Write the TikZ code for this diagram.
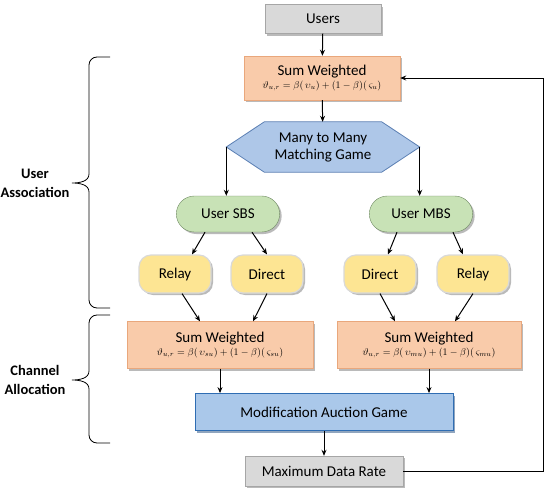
\documentclass[tikz,border=0pt]{standalone}
\usepackage{amsmath,amssymb}
\usepackage{fontspec}
\setmainfont{Carlito}
\usepackage{xcolor}
\usetikzlibrary{positioning,arrows.meta,shapes.misc,shadows,backgrounds}

\definecolor{grayfill}{HTML}{D9D9D9}
\definecolor{peach}{HTML}{F9CBAA}
\definecolor{peachline}{HTML}{E9A77C}
\definecolor{hexfill}{HTML}{AEC7E8}
\definecolor{hexline}{HTML}{5B7FB3}
\definecolor{greenfill}{HTML}{C8E2B6}
\definecolor{greenline}{HTML}{6F8A62}
\definecolor{yellowfill}{HTML}{FDE593}
\definecolor{auctionfill}{HTML}{AAC8EA}
\definecolor{auctionline}{HTML}{2F6DB3}

\begin{document}
\begin{tikzpicture}[
    x=1pt, y=-1pt,
    txt/.style={font=\fontsize{15}{17}\selectfont, align=center},
    shade/.style={drop shadow={shadow xshift=2pt, shadow yshift=-2pt, fill=black!45, opacity=0.6}},
    graybox/.style={txt, rectangle, draw=black!35, fill=grayfill, shade, minimum width=116pt, minimum height=29pt},
    sumbox/.style={txt, rectangle, draw=peachline, fill=peach, shade, minimum width=156pt, minimum height=44pt},
    pill/.style={txt, rounded rectangle, draw=greenline, fill=greenfill, shade, minimum width=110pt, minimum height=36pt},
    leaf/.style={txt, rectangle, rounded corners=12pt, draw=black!15, line width=1.2pt, fill=yellowfill, shade, minimum width=72pt, minimum height=38pt},
    hexbox/.style={draw=hexline, fill=hexfill, line width=0.8pt},
    auction/.style={txt, rectangle, draw=auctionline, fill=auctionfill, line width=0.8pt, drop shadow={shadow xshift=2pt, shadow yshift=-2pt, fill=auctionline!70!black}, minimum width=258pt, minimum height=37pt},
    arrow/.style={-{Stealth[length=6pt, width=5pt]}, line width=1pt, black},
    brace/.style={line width=0.8pt, black},
    grouplabel/.style={font=\fontsize{14.5}{19}\selectfont\bfseries, align=center},
]
\useasboundingbox (0,0) rectangle (550,496);

% Top: users and weights
\node[graybox] (users) at (323,19) {Users};
\node[sumbox] (sumtop) at (322,78) {Sum Weighted\\[-4pt]{\fontsize{10}{11}\selectfont $\vartheta_{u,r}=\beta(\,\upsilon_u)+(1-\beta)(\,\varsigma_u)$}};

% Matching game
\node[txt, minimum width=193pt, minimum height=50pt] (match) at (323,147) {Many to Many\\Matching Game};
\begin{scope}[on background layer]
\draw[hexbox] (match.west) -- ([xshift=38pt]match.north west) -- ([xshift=-38pt]match.north east)
    -- (match.east) -- ([xshift=-38pt]match.south east) -- ([xshift=38pt]match.south west) -- cycle;
\end{scope}

% Association
\node[pill] (sbs) at (228,214) {User SBS};
\node[pill] (mbs) at (421,214) {User MBS};

\node[leaf] (relayL) at (175,274) {Relay};
\node[leaf] (directL) at (267,274) {Direct};
\node[leaf] (directR) at (380,274) {Direct};
\node[leaf] (relayR) at (473,274) {Relay};

% Allocation
\node[sumbox, minimum width=186pt, minimum height=47pt] (sumL) at (220,345) {Sum Weighted\\[-4pt]{\fontsize{10}{11}\selectfont $\vartheta_{u,r}=\beta(\,\upsilon_{su})+(1-\beta)(\,\varsigma_{su})$}};
\node[sumbox, minimum width=184pt, minimum height=47pt] (sumR) at (429,345) {Sum Weighted\\[-4pt]{\fontsize{10}{11}\selectfont $\vartheta_{u,r}=\beta(\,\upsilon_{mu})+(1-\beta)(\,\varsigma_{mu})$}};

\node[auction] (auction) at (324,412) {Modification Auction Game};
\node[graybox, minimum width=158pt, minimum height=30pt] (maxrate) at (324,471) {Maximum Data Rate};

\coordinate (loop) at (543,471);

% Arrows
\draw[arrow] (users) -- (sumtop);
\draw[arrow] (sumtop) -- (match);
\draw[arrow] (match.west) -- (match.west |- sbs.north);
\draw[arrow] (match.east) -- (match.east |- mbs.north);
\draw[arrow] ([xshift=-23pt]sbs.south) -- ([xshift=17pt]relayL.north);
\draw[arrow] ([xshift=24pt]sbs.south) -- (directL.north);
\draw[arrow] ([xshift=-24pt]mbs.south) -- ([xshift=8pt]directR.north);
\draw[arrow] ([xshift=32pt]mbs.south) -- ([xshift=-10pt]relayR.north);
\draw[arrow] ([xshift=7pt]relayL.south) -- ([xshift=-20pt]sumL.north);
\draw[arrow] (directL.south) -- ([xshift=33pt]sumL.north);
\draw[arrow] (directR.south) -- ([xshift=-34pt]sumR.north);
\draw[arrow] (relayR.south) -- ([xshift=26pt]sumR.north);
\draw[arrow] (sumL.south) -- (sumL.south |- auction.north);
\draw[arrow] (sumR.south) -- (sumR.south |- auction.north);
\draw[arrow] (auction) -- (maxrate);
\draw[arrow] (maxrate.east) -- (loop) |- (sumtop.east);

% Braces
\draw[brace] (110,57) -- (97,57) to[out=180,in=90] (89,65) -- (89,174) to[out=-90,in=0] (72,183)
    to[out=0,in=90] (89,192) -- (89,300) to[out=-90,in=180] (97,308) -- (110,308);
\draw[brace] (110,315) -- (97,315) to[out=180,in=90] (89,323) -- (89,371) to[out=-90,in=0] (72,380)
    to[out=0,in=90] (89,389) -- (89,435) to[out=-90,in=180] (97,443) -- (110,443);

% Labels
\node[grouplabel] (ua) at (35,183) {User\\Association};
\node[grouplabel] (ca) at (35,380) {Channel\\Allocation};

\end{tikzpicture}
\end{document}
